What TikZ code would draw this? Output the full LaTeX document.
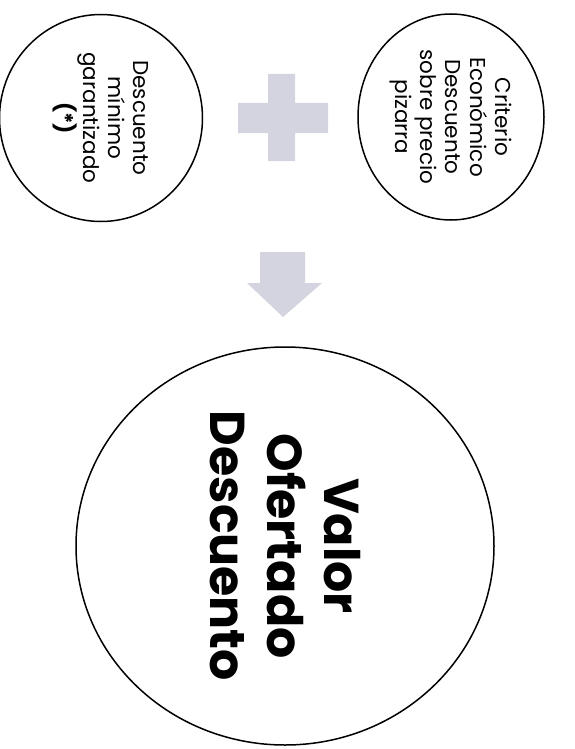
\documentclass[tikz,border=0pt]{standalone}
\usepackage{fontspec}
\setmainfont{Poppins}
\usetikzlibrary{shapes.geometric}

\definecolor{signgray}{RGB}{212,212,224}

\begin{document}
\begin{tikzpicture}[x=1pt, y=-1pt, every node/.style={ellipse, draw=black, line width=1.5pt, rotate=-90, align=center, inner sep=0pt}, every path/.style={draw=none}]
		\useasboundingbox (0,0) rectangle (574,749);
		\node[minimum width=207, minimum height=203, font=\fontsize{21.5}{25}\selectfont] (minimo) at (101,118){Descuento\\mínimo\\garantizado\\\textbf{(*)}};
		\node[minimum width=206, minimum height=186, font=\fontsize{21.5}{25}\selectfont] (criterio) at (451,117){Criterio\\Económico\\Descuento\\sobre precio\\pizarra};
		\node[minimum width=398, minimum height=418, font=\fontsize{49}{57}\selectfont\bfseries] (valor) at (285,546){Valor\\Ofertado\\Descuento};
		
		\fill[signgray] (268,74) -- (295,74) -- (295,103) -- (328,103) -- (328,133) -- (295,133) -- (295,161) -- (268,161) -- (268,133) -- (238,133) -- (238,103) -- (268,103) -- cycle;
		\fill[signgray] (260,252) -- (305,252) -- (305,283) -- (322,283) -- (283,317) -- (247,283) -- (260,283) -- cycle;
		\end{tikzpicture}
\end{document}
